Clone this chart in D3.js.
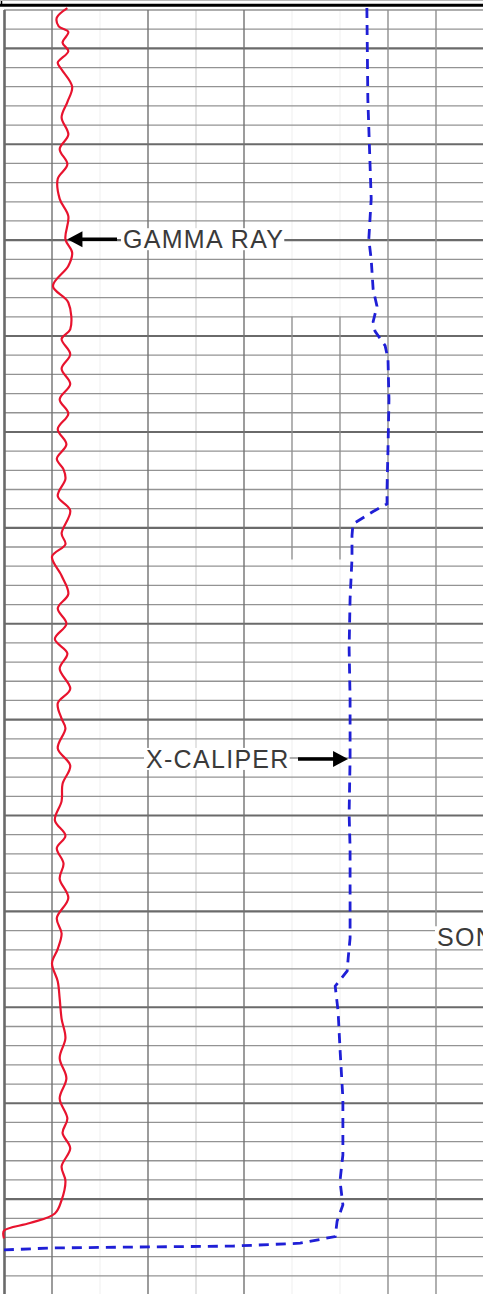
<!DOCTYPE html>
<html>
<head>
    <meta charset="utf-8">
    <title>Well Log</title>
    <style>
        body { margin: 0; background: #fff; }
        svg { display: block; }
    </style>
</head>
<body>
    <script src="https://cdnjs.cloudflare.com/ajax/libs/d3/7.9.0/d3.min.js"></script>
    <script>

        const width = 483;
        const height = 1294;

        // depth (ft), gamma ray (API)
        const gammaDepth = [4799.8, 4800.8, 4801.7, 4802.3, 4803.4, 4804.3, 4805.5, 4806.2, 4808.0, 4809.6,
            4811.2, 4813.0, 4814.5, 4816.1, 4817.6, 4819.7, 4821.5, 4823.9, 4825.3, 4826.7,
            4828.8, 4830.5, 4833.3, 4834.3, 4835.9, 4837.4, 4839.0, 4840.6, 4842.1, 4843.7,
            4845.3, 4846.8, 4847.9, 4848.9, 4850.7, 4852.2, 4854.6, 4855.7, 4857.0, 4859.0,
            4860.9, 4862.4, 4864.0, 4865.6, 4867.1, 4868.7, 4870.8, 4872.3, 4873.9, 4874.9,
            4877.0, 4878.8, 4880.7, 4882.5, 4884.5, 4886.1, 4887.4, 4889.0, 4890.6, 4892.6,
            4894.7, 4896.3, 4897.9, 4899.4, 4901.3, 4903.1, 4905.2, 4907.2, 4909.3, 4911.4,
            4913.5, 4915.6, 4917.1, 4918.7, 4920.6, 4922.1, 4924.1, 4925.5, 4926.5, 4927.3, 4928.1];
        const gammaValue = [66, 55, 57, 67, 61, 67, 56, 60, 71, 66,
            60, 67, 58, 66, 56, 58, 67, 64, 71, 67,
            51, 67, 69, 60, 69, 60, 69, 58, 67, 56,
            65, 55, 62, 64, 56, 69, 60, 64, 50, 60,
            67, 56, 65, 53, 66, 58, 69, 56, 60, 64,
            56, 69, 61, 60, 53, 64, 55, 62, 58, 67,
            55, 60, 56, 50, 56, 58, 60, 64, 58, 65,
            58, 66, 61, 69, 60, 64, 60, 53, 27, 0, 0];

        // depth (ft), caliper (in)
        const caliperDepth = [4799.8, 4809.3, 4819.7, 4823.9, 4826.0, 4829.1, 4830.9, 4832.5, 4833.5, 4835.0,
            4836.4, 4840.6, 4845.8, 4849.9, 4851.5, 4852.3, 4853.6, 4854.8, 4857.2, 4861.4,
            4866.6, 4871.8, 4878.1, 4883.8, 4887.4, 4892.6, 4896.8, 4898.9, 4900.2, 4901.8,
            4904.4, 4908.3, 4913.5, 4919.4, 4922.1, 4924.6, 4926.3, 4927.9, 4928.6, 4928.9,
            4929.0, 4929.1, 4929.3];
        const caliperValue = [13.56, 13.58, 13.65, 13.60, 13.65, 13.69, 13.77, 13.69, 13.73, 13.94,
            14.00, 14.02, 14.00, 13.98, 13.98, 13.69, 13.27, 13.25, 13.25, 13.21,
            13.19, 13.21, 13.21, 13.19, 13.21, 13.21, 13.21, 13.17, 13.15, 12.90,
            12.96, 13.00, 13.06, 13.06, 13.00, 13.06, 12.94, 12.90, 12.17, 10.77,
            8.69, 6.96, 6.00];

        const gridDepths = d3.range(4800, 4934, 2);

        const svg = d3.select("body")
            .append("svg")
            .attr("width", width)
            .attr("height", height)
            .style("font-family", "'Liberation Sans', Arial, sans-serif");

        svg.append("rect").attr("width", width).attr("height", height).attr("fill", "#fff");

        const y = d3.scaleLinear().domain([4800, 4934]).range([10, 1295]);
        const track = d3.scaleLinear().domain([0, 10]).range([4, 484]);
        const grScale = d3.scaleLinear().domain([0, 150]).range([4, 148]);
        const calScale = d3.scaleLinear().domain([6, 16]).range([4, 484]);

        const grid = svg.append("g");

        // faint divisions
        grid.selectAll(".faint")
            .data([2, 6, 7])
            .enter()
            .append("line")
            .attr("x1", d => track(d)).attr("x2", d => track(d))
            .attr("y1", y(4800)).attr("y2", height)
            .attr("stroke", "#efefef").attr("stroke-width", 1);

        grid.append("line")
            .attr("x1", track(4)).attr("x2", track(4))
            .attr("y1", y(4800)).attr("y2", height)
            .attr("stroke", "#d2d2d2").attr("stroke-width", 1.2);

        grid.selectAll(".hline")
            .data(gridDepths)
            .enter()
            .append("line")
            .attr("x1", track(0)).attr("x2", width)
            .attr("y1", d => y(d)).attr("y2", d => y(d))
            .attr("stroke", d => (d - 4804) % 10 === 0 ? "#6a6a6a" : "#939393")
            .attr("stroke-width", d => (d - 4804) % 10 === 0 ? 2.1 : 1.3);

        grid.selectAll(".vline")
            .data([1, 3, 5, 8, 9])
            .enter()
            .append("line")
            .attr("x1", d => track(d)).attr("x2", d => track(d))
            .attr("y1", y(4800)).attr("y2", height)
            .attr("stroke", d => d <= 5 ? "#727272" : "#8e8e8e")
            .attr("stroke-width", 1.4);

        // short divisions in middle section
        grid.selectAll(".vshort")
            .data([6, 7])
            .enter()
            .append("line")
            .attr("x1", d => track(d)).attr("x2", d => track(d))
            .attr("y1", y(4832)).attr("y2", y(4857.3))
            .attr("stroke", "#8e8e8e").attr("stroke-width", 1.3);

        // left border
        grid.append("line")
            .attr("x1", 4.5).attr("x2", 4.5)
            .attr("y1", y(4800)).attr("y2", height)
            .attr("stroke", "#6a6a6a").attr("stroke-width", 2.6);

        // header strip
        svg.append("line")
            .attr("x1", 1.5).attr("x2", 1.5).attr("y1", 0).attr("y2", 5)
            .attr("stroke", "#000").attr("stroke-width", 1.5);
        svg.append("line")
            .attr("x1", 0).attr("x2", width).attr("y1", 5.3).attr("y2", 5.3)
            .attr("stroke", "#000").attr("stroke-width", 3);
        svg.append("line")
            .attr("x1", 0).attr("x2", width).attr("y1", 0.5).attr("y2", 0.5)
            .attr("stroke", "#bbb").attr("stroke-width", 1);

        // gamma ray curve
        const gamma = gammaDepth.map((d, i) => ({depth: d, value: gammaValue[i]}));
        svg.append("path")
            .datum(gamma)
            .attr("fill", "none")
            .attr("stroke", "#e8132e")
            .attr("stroke-width", 2.2)
            .attr("d", d3.line()
                .x(d => grScale(d.value))
                .y(d => y(d.depth))
                .curve(d3.curveCatmullRom.alpha(0.5)));

        // caliper curve
        const caliper = caliperDepth.map((d, i) => ({depth: d, value: caliperValue[i]}));
        svg.append("path")
            .datum(caliper)
            .attr("fill", "none")
            .attr("stroke", "#1f1fd6")
            .attr("stroke-width", 2.8)
            .attr("stroke-dasharray", "10,7")
            .attr("d", d3.line()
                .x(d => calScale(d.value))
                .y(d => y(d.depth))
                .curve(d3.curveLinear));

        // annotations
        function label(text, x, yy) {
            const t = svg.append("text")
                .attr("x", x).attr("y", yy)
                .attr("font-size", 25)
                .attr("letter-spacing", 1.3)
                .attr("fill", "#3a3a3a")
                .text(text);
            const b = t.node().getBBox();
            svg.insert("rect", "text")
                .attr("x", b.x - 2).attr("y", b.y + 3)
                .attr("width", b.width + 2).attr("height", b.height - 6)
                .attr("fill", "#fff");
        }

        function arrow(x1, x2, yy) {
            const dir = x2 > x1 ? 1 : -1;
            svg.append("line")
                .attr("x1", x1).attr("x2", x2 - dir * 13)
                .attr("y1", yy).attr("y2", yy)
                .attr("stroke", "#000").attr("stroke-width", 3.5);
            svg.append("path")
                .attr("d", `M${x2},${yy} L${x2 - dir * 15},${yy - 8} L${x2 - dir * 15},${yy + 8} Z`)
                .attr("fill", "#000");
        }

        const grNoteDepth = 4823.9;
        label("GAMMA RAY", 123, y(grNoteDepth) + 9);
        arrow(117, grScale(64) + 2, y(grNoteDepth));

        const calNoteDepth = 4878.1;
        label("X-CALIPER", 146, y(calNoteDepth) + 9);
        arrow(298, calScale(13.21) - 2, y(calNoteDepth));

        label("SONIC", 437, y(4896.8) + 8);

    </script>
</body>
</html>
